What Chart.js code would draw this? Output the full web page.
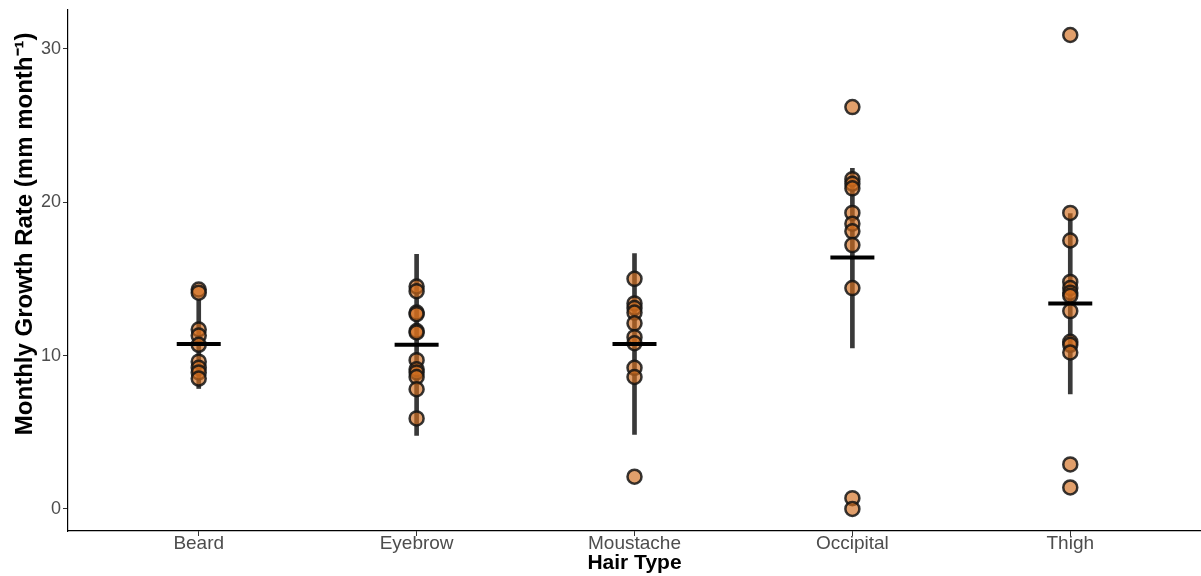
<!DOCTYPE html>
<html>
<head>
    <title>Hair Growth Rate</title>
    <style>
        body { margin: 0; padding: 0; background: #ffffff; }
        .chart-container { width: 1201px; height: 576px; }
    </style>
    <script src="https://cdn.jsdelivr.net/npm/chart.js"></script>
</head>
<body>
    <div class="chart-container">
        <canvas id="hairChart" width="1201" height="576"></canvas>
    </div>

    <script>
        // Data
        const categories = ['Beard', 'Eyebrow', 'Moustache', 'Occipital', 'Thigh'];
        const beard = [14.3, 14.1, 11.7, 11.3, 10.7, 9.6, 9.2, 8.9, 8.5];
        const eyebrow = [14.5, 14.2, 12.8, 12.7, 11.6, 11.5, 9.7, 9.1, 8.9, 8.6, 7.8, 5.9];
        const moustache = [15.0, 13.4, 13.1, 12.8, 12.1, 11.2, 10.8, 9.2, 8.6, 2.1];
        const occipital = [26.2, 21.5, 21.2, 20.9, 19.3, 18.6, 18.1, 17.2, 14.4, 0.7, 0.0];
        const thigh = [30.9, 19.3, 17.5, 14.8, 14.4, 14.1, 13.9, 12.9, 10.9, 10.7, 10.2, 2.9, 1.4];
        const means = [10.75, 10.7, 10.75, 16.4, 13.4];
        const errLow = [7.85, 4.8, 4.85, 10.5, 7.5];
        const errHigh = [13.65, 16.6, 16.65, 22.2, 19.25];
        const yTicks = [0, 10, 20, 30];

        const groups = [beard, eyebrow, moustache, occipital, thigh];
        const pointData = [];
        groups.forEach((vals, i) => vals.forEach(v => pointData.push({ x: i, y: v })));

        const ctx = document.getElementById('hairChart').getContext('2d');
        new Chart(ctx, {
            data: {
                datasets: [
                    {
                        // mean crossbars, drawn on top
                        type: 'scatter',
                        data: means.map((m, i) => ({ x: i, y: m })),
                        pointStyle: 'line',
                        pointRadius: 22,
                        borderColor: '#000000',
                        borderWidth: 4,
                        order: 0
                    },
                    {
                        type: 'scatter',
                        data: pointData,
                        pointRadius: 7,
                        backgroundColor: 'rgba(210, 110, 30, 0.66)',
                        borderColor: 'rgba(20, 20, 20, 0.85)',
                        borderWidth: 2.5,
                        order: 1
                    },
                    {
                        // error bars as thin floating bars
                        type: 'bar',
                        data: errLow.map((lo, i) => ({ x: i, y: [lo, errHigh[i]] })),
                        backgroundColor: 'rgba(30, 30, 30, 0.88)',
                        barThickness: 4,
                        order: 2
                    }
                ]
            },
            options: {
                responsive: false,
                animation: false,
                layout: { autoPadding: false, padding: { top: 10, right: 0, left: 0, bottom: 0 } },
                plugins: { legend: { display: false }, tooltip: { enabled: false } },
                scales: {
                    x: {
                        type: 'linear',
                        min: -0.6,
                        max: 4.6,
                        offset: false,
                        afterBuildTicks: (scale) => { scale.ticks = categories.map((c, i) => ({ value: i })); },
                        afterFit: (scale) => {
                            scale.height = 45;
                            scale.paddingLeft = 0;
                            scale.paddingRight = 0;
                        },
                        ticks: {
                            callback: (v) => categories[v],
                            color: '#4d4d4d',
                            font: { family: 'Liberation Sans, Arial', size: 19 },
                            padding: -4,
                            maxRotation: 0
                        },
                        grid: { display: true, offset: false, drawOnChartArea: false, tickLength: 5, tickWidth: 1, tickColor: '#333333' },
                        border: { color: '#000000', width: 1.2 },
                        title: {
                            display: true,
                            text: 'Hair Type',
                            color: '#000000',
                            font: { family: 'Liberation Sans, Arial', size: 21, weight: 'bold' },
                            padding: { top: 0, bottom: 0 }
                        }
                    },
                    y: {
                        type: 'linear',
                        min: -1.44,
                        max: 32.53,
                        afterBuildTicks: (scale) => { scale.ticks = yTicks.map(v => ({ value: v })); },
                        afterFit: (scale) => {
                            scale.width = 68;
                            scale.paddingTop = 0;
                            scale.paddingBottom = 0;
                        },
                        ticks: {
                            color: '#4d4d4d',
                            font: { family: 'Liberation Sans, Arial', size: 18 },
                            padding: 2
                        },
                        grid: { display: true, drawOnChartArea: false, tickLength: 5, tickColor: '#333333' },
                        border: { color: '#000000', width: 1.2 },
                        title: {
                            display: true,
                            // leading spaces nudge the rotated title up like the original
                            text: '\u00A0\u00A0\u00A0\u00A0\u00A0\u00A0\u00A0\u00A0\u00A0\u00A0\u00A0Monthly Growth Rate (mm month\u207B\u00B9)',
                            color: '#000000',
                            font: { family: 'Liberation Sans, Arial', size: 24, weight: 'bold' },
                            padding: { top: 11, bottom: 0 }
                        }
                    }
                }
            }
        });
    </script>
</body>
</html>
